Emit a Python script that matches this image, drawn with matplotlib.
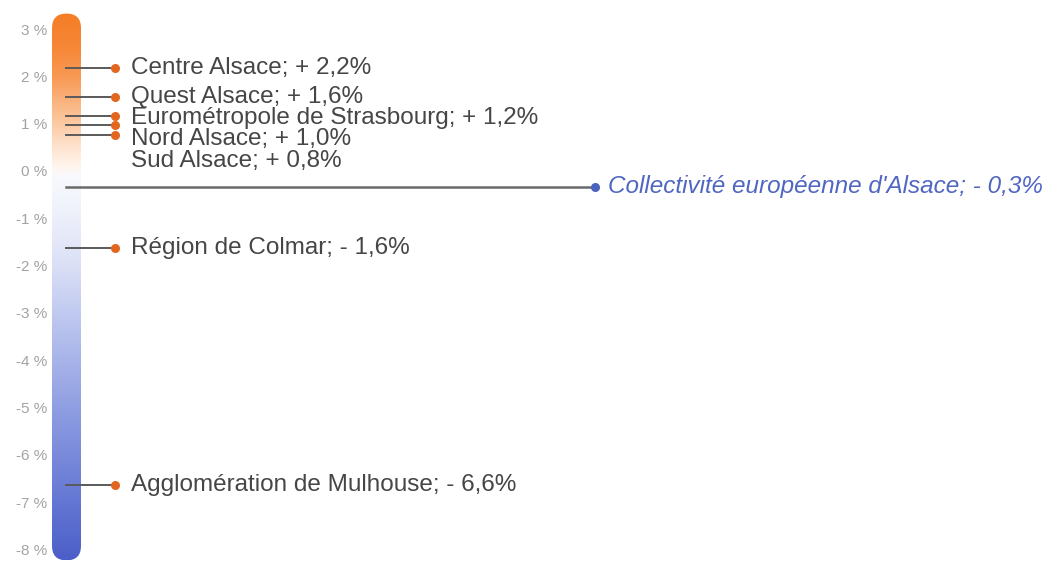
import numpy as np
import matplotlib
matplotlib.use("Agg")
import matplotlib.pyplot as plt
from matplotlib.patches import FancyBboxPatch

# --- data -------------------------------------------------------------
territories = [
    "Centre Alsace",
    "Quest Alsace",
    "Eurométropole de Strasbourg",
    "Nord Alsace",
    "Sud Alsace",
    "Région de Colmar",
    "Agglomération de Mulhouse",
]
changes = [2.2, 1.6, 1.2, 1.0, 0.8, -1.6, -6.6]

total_name = "Collectivité européenne d'Alsace"
total_change = -0.3

tick_values = [3, 2, 1, 0, -1, -2, -3, -4, -5, -6, -7, -8]
tick_labels = ["3 %", "2 %", "1 %", "0 %", "-1 %", "-2 %", "-3 %",
               "-4 %", "-5 %", "-6 %", "-7 %", "-8 %"]

# --- layout ------------------------------------------------------------
W, H = 1049, 562
ZERO_PX = 172.5      # pixel row of 0 %
PX_PER_PCT = 47.3    # pixels per percentage point

def fmt(v):
    sign = "+" if v >= 0 else "-"
    return f"{sign} {abs(v):.1f}%".replace(".", ",")

plt.rcParams["font.family"] = ["Liberation Sans", "DejaVu Sans"]

fig = plt.figure(figsize=(W / 100, H / 100), dpi=100)
ax = fig.add_axes([0, 0, 1, 1])
ax.set_xlim(0, W)
ax.set_ylim((ZERO_PX - H) / PX_PER_PCT, ZERO_PX / PX_PER_PCT)
ax.axis("off")

# gradient thermometer bar
bar_x0, bar_w = 52, 29
bar_top, bar_bot = 3.36, -8.2
grad_v = np.array([3.4, 2.6, 2.0, 1.5, 1.0, 0.5, 0.1, -0.1, -0.5,
                   -1.0, -2.0, -3.0, -4.0, -5.0, -6.0, -7.0, -8.3])
grad_c = np.array([
    (0xF5, 0x7D, 0x25), (0xF6, 0x88, 0x38), (0xF8, 0x9A, 0x55),
    (0xFA, 0xB3, 0x7E), (0xFC, 0xCB, 0xA5), (0xFE, 0xE5, 0xD2),
    (0xFF, 0xF6, 0xEF), (0xF8, 0xF9, 0xFE), (0xF3, 0xF5, 0xFC),
    (0xEC, 0xEF, 0xFA), (0xDA, 0xDF, 0xF6), (0xC0, 0xC9, 0xF0),
    (0xA7, 0xB3, 0xE9), (0x8F, 0x9E, 0xE2), (0x79, 0x8A, 0xDB),
    (0x63, 0x76, 0xD3), (0x4A, 0x5D, 0xC8)]) / 255.0
vv = np.linspace(bar_top, bar_bot, 600)
img = np.stack([np.interp(-vv, -grad_v, grad_c[:, k]) for k in range(3)],
               axis=-1)[:, None, :]
clip = FancyBboxPatch((bar_x0, bar_bot), bar_w, bar_top - bar_bot,
                      boxstyle=f"round,pad=0,rounding_size={bar_w / 2}",
                      mutation_aspect=1 / PX_PER_PCT,
                      facecolor="none", edgecolor="none",
                      transform=ax.transData)
ax.add_patch(clip)
im = ax.imshow(img, extent=(bar_x0, bar_x0 + bar_w, bar_bot, bar_top),
               aspect="auto", interpolation="bilinear", zorder=1)
im.set_clip_path(clip)

# axis tick labels
for v, lab in zip(tick_values, tick_labels):
    ax.text(47, v, lab, ha="right", va="center", fontsize=11,
            color="#A3A3A3")

# connectors, dots and labels for each territory
line_x0, dot_x, text_x = 66, 115, 131
min_gap = 0.45
label_y = []
prev = None
for v in changes:
    y = v if prev is None or v < 0 else min(v, prev - min_gap)
    label_y.append(y)
    prev = y

for name, v, ly in zip(territories, changes, label_y):
    ax.plot([line_x0, dot_x], [v, v], color="#5A5A5A", lw=1.4, zorder=3)
    ax.plot(dot_x, v, "o", ms=6.5, color="#E2661E", mec="none", zorder=4)
    ax.text(text_x, ly, f"{name}; {fmt(v)}", ha="left", va="center",
            fontsize=17.5, color="#464646", zorder=5)

# overall total
tot_dot_x = 595
ax.plot([line_x0, tot_dot_x], [total_change, total_change],
        color="#6A6A6A", lw=1.8, zorder=3)
ax.plot(tot_dot_x, total_change, "o", ms=6.5, color="#4A62C0", mec="none",
        zorder=4)
ax.text(608, total_change, f"{total_name}; {fmt(total_change)}",
        ha="left", va="center", fontsize=17.5, style="italic",
        color="#5066C2", zorder=5)

fig.savefig("out.png", dpi=100, facecolor="white")
